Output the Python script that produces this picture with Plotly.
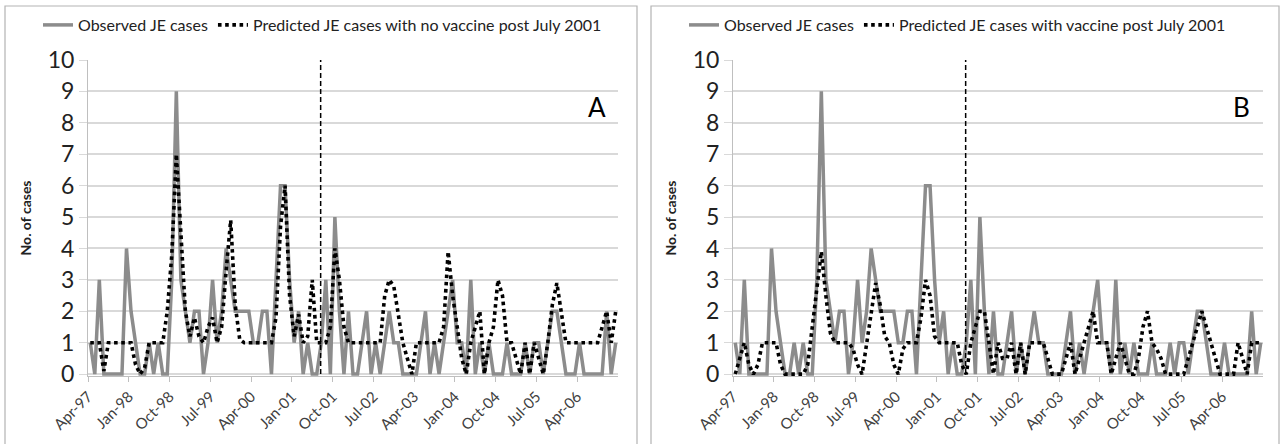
import plotly.graph_objects as go
import pandas as pd

# ---------------- data ----------------
months = pd.date_range("1997-04-01", "2006-12-01", freq="MS").strftime("%b-%y").tolist()
tick_labels = ["Apr-97", "Jan-98", "Oct-98", "Jul-99", "Apr-00", "Jan-01", "Oct-01",
               "Jul-02", "Apr-03", "Jan-04", "Oct-04", "Jul-05", "Apr-06"]
intervention_month = "Jul-01"

observed = [
    1, 0, 3, 0, 0, 0, 0, 0, 4, 2,
    1, 0, 0, 1, 0, 1, 0, 0, 3, 9,
    3, 2, 1, 2, 2, 0, 1, 3, 1, 2,
    4, 3, 2, 2, 2, 2, 1, 1, 2, 2,
    0, 3, 6, 6, 3, 1, 2, 0, 1, 0,
    0, 1, 3, 0, 5, 2, 0, 2, 0, 0,
    1, 2, 0, 1, 0, 1, 2, 1, 1, 0,
    0, 0, 0, 1, 2, 0, 1, 0, 1, 2,
    3, 1, 1, 0, 3, 0, 1, 0, 1, 0,
    0, 0, 1, 0, 0, 0, 1, 0, 1, 1,
    0, 1, 2, 2, 1, 0, 0, 0, 1, 0,
    0, 0, 0, 0, 2, 0, 1,
]

predicted_no_vaccine = [
    1, 1, 1, 0.1, 1, 1, 1, 1, 1, 1,
    0.3, 0, 0.2, 1, 1, 1, 1, 2, 3.8, 7,
    4.3, 2, 1.2, 1.8, 1.2, 1, 1.5, 1.8, 1, 1.5,
    3.3, 4.9, 2.2, 1.1, 1, 1, 1, 1, 1, 1,
    1, 1.8, 4.7, 6, 2.5, 1.2, 1.9, 1, 1.2, 3,
    1, 1, 1, 1.5, 4, 3, 1.5, 1, 1, 1,
    1, 1, 1, 1, 1, 2.5, 3, 2.8, 1.8, 1,
    0.5, 0, 1, 1, 1, 1, 1, 1, 1.5, 3.9,
    2.5, 1.5, 0.5, 0, 1, 1.5, 2, 0, 1, 1.5,
    3, 2.5, 1, 1, 0.5, 0, 1, 0, 1, 0.5,
    0, 1, 2.2, 2.9, 2, 1, 1, 1, 1, 1,
    1, 1, 1, 1.5, 2, 1, 2,
]

predicted_vaccine = [
    0, 0.5, 1, 0.3, 0, 0.3, 1, 1, 1, 1,
    0.3, 0, 0, 0, 0, 0, 0.3, 1.5, 2.8, 3.9,
    2.5, 1.3, 1, 1, 1, 1, 0.8, 0.3, 0, 1,
    2, 2.9, 2.2, 1.2, 1, 0.3, 0, 0.8, 1, 1,
    1, 1.8, 3, 2.5, 1.2, 1, 1, 1, 1, 1,
    0.3, 0, 1, 1.5, 2, 2, 1, 0, 1, 0.5,
    0.5, 1, 0, 1, 0, 1, 1, 1, 1, 0.5,
    0, 0, 0, 0.5, 1, 0, 0.5, 1, 1.5, 2,
    1, 1, 1, 0, 0.5, 1, 0.5, 0, 0, 0.5,
    1.5, 2, 1, 0.8, 0.5, 0, 0, 0, 0, 0,
    0.5, 1, 1.5, 2, 1.5, 1, 0.5, 0, 0, 0,
    0, 1, 0.5, 0, 1, 1, 1,
]

# ---------------- layout helpers ----------------
W, H = 1283, 444
FONT = "Lato"
GRAY = "#8c8c8c"
GRID = "#d9d9d9"
AXIS = "#bfbfbf"
TXT = "#404040"

def px(x):
    return x / W

def py(y):
    return 1 - y / H

x_idx = list(range(len(months)))
tickvals = [months.index(t) - 0.5 for t in tick_labels]
x_int = months.index(intervention_month)

fig = go.Figure()

panels = [
    ("x", "y", "legend", predicted_no_vaccine, "Predicted JE cases with no vaccine post July 2001"),
    ("x2", "y2", "legend2", predicted_vaccine, "Predicted JE cases with vaccine post July 2001"),
]
for xa, ya, lg, pred, pname in panels:
    fig.add_trace(go.Scatter(
        x=x_idx, y=observed, mode="lines", name="Observed JE cases",
        line=dict(color=GRAY, width=3.5), xaxis=xa, yaxis=ya, legend=lg,
    ))
    fig.add_trace(go.Scatter(
        x=x_idx, y=pred, mode="lines", name=pname,
        line=dict(color="black", width=3.6, dash="3.6px,3.6px"), xaxis=xa, yaxis=ya, legend=lg,
    ))

xaxis_common = dict(
    range=[-0.5, len(months) - 0.5], tickmode="array", tickvals=tickvals, ticktext=tick_labels,
    tickangle=-45, ticks="outside", ticklen=5, tickcolor=AXIS, showline=True, linecolor=AXIS,
    linewidth=1, showgrid=False, zeroline=False, tickfont=dict(family=FONT, size=15, color=TXT),
    automargin=False,
)
yaxis_common = dict(
    range=[-0.06, 10], tickmode="linear", tick0=0, dtick=1, ticks="outside", ticklen=8,
    tickcolor=GRID, showline=True, linecolor=AXIS, linewidth=1, showgrid=True,
    gridcolor=GRID, gridwidth=1.5, zeroline=False,
    tickfont=dict(family=FONT, size=23, color="#222222"),
    title=dict(text="<b>No. of cases</b>", font=dict(family=FONT, size=14, color="#222222"), standoff=12),
    automargin=False,
)

y_dom = [py(376), py(60)]
fig.update_layout(
    width=W, height=H, autosize=False,
    margin=dict(l=0, r=0, t=0, b=0, autoexpand=False),
    paper_bgcolor="white", plot_bgcolor="white",
    xaxis=dict(xaxis_common, domain=[px(88), px(618)], anchor="y"),
    yaxis=dict(yaxis_common, domain=y_dom, anchor="x"),
    xaxis2=dict(xaxis_common, domain=[px(733), px(1263)], anchor="y2"),
    yaxis2=dict(yaxis_common, domain=y_dom, anchor="x2"),
    legend=dict(orientation="h", x=px(38), y=py(25), xanchor="left", yanchor="middle",
                font=dict(family=FONT, size=16, color="#222222"), bgcolor="rgba(0,0,0,0)",
                itemwidth=30, tracegroupgap=0),
    legend2=dict(orientation="h", x=px(684), y=py(25), xanchor="left", yanchor="middle",
                 font=dict(family=FONT, size=16, color="#222222"), bgcolor="rgba(0,0,0,0)",
                 itemwidth=30, tracegroupgap=0),
    showlegend=True,
)

# chart borders
for x0, x1 in [(5, 637), (651, 1279)]:
    fig.add_shape(type="rect", xref="paper", yref="paper", x0=px(x0), x1=px(x1),
                  y0=-0.05, y1=py(6), line=dict(color="#b3b3b3", width=1.2), layer="below")

# intervention dashed line
for xr, yr in [("x", "y"), ("x2", "y2")]:
    fig.add_shape(type="line", xref=xr, yref=yr, x0=x_int - 0.14, x1=x_int - 0.14, y0=0, y1=10,
                  line=dict(color="black", width=1.5, dash="5px,3px"))

# panel letters
for xr, yr, letter in [("x", "y", "A"), ("x2", "y2", "B")]:
    fig.add_annotation(xref=xr + " domain", yref=yr + " domain", x=0.96, y=0.85,
                       text=letter, showarrow=False, xanchor="center", yanchor="middle",
                       font=dict(family=FONT, size=26, color="black"))

fig.write_html("out.html", config={"displayModeBar": False},
               post_script="document.body.style.margin='0px';")
